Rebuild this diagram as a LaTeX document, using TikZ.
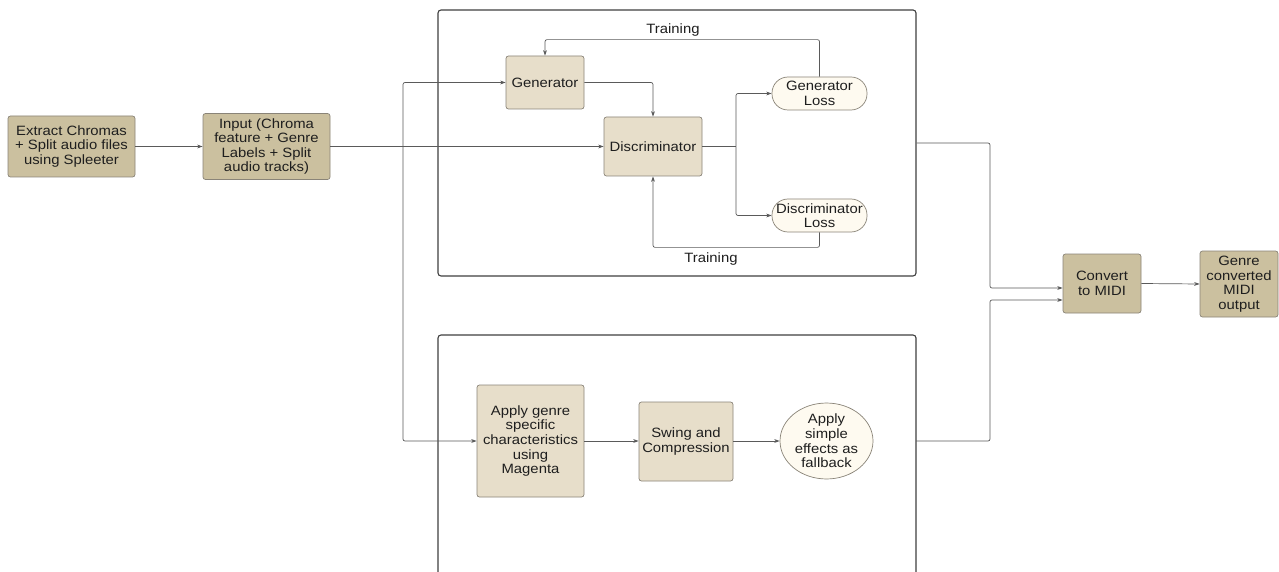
\documentclass[tikz,border=0pt]{standalone}
\usepackage{fontspec}
\setmainfont{Liberation Sans}[FakeStretch=1.1]
\usetikzlibrary{arrows.meta,shapes.geometric,calc}
\definecolor{darktan}{HTML}{CBC09F}
\definecolor{lighttan}{HTML}{E7DECA}
\definecolor{cream}{HTML}{FEFAF0}
\definecolor{linecol}{HTML}{5A5A5A}
\definecolor{edgecol}{HTML}{8A8478}
\definecolor{txt}{HTML}{1E1E1E}
\tikzset{
  every node/.style={font=\fontsize{13.5}{14.6}\selectfont, text=txt},
  outerbox/.style={draw=edgecol, fill=darktan, rounded corners=2.5pt, align=center, inner sep=1pt, line width=0.7pt},
  innerbox/.style={draw=edgecol, fill=lighttan, rounded corners=2.5pt, align=center, inner sep=1pt, line width=0.7pt},
  pill/.style={draw=edgecol, fill=cream, rounded corners=16pt, align=center, inner sep=0pt, line width=0.7pt, minimum width=95pt, minimum height=33pt},
  oval/.style={draw=edgecol, fill=cream, ellipse, align=center, inner sep=0pt, line width=0.7pt, minimum width=93pt, minimum height=70pt},
  bigbox/.style={draw=black!75, line width=1.1pt, rounded corners=3pt},
  arr/.style={draw=linecol, line width=0.7pt, rounded corners=2pt, -{Stealth[length=5.5pt,width=3.8pt]}},
  ln/.style={draw=linecol, line width=0.7pt, rounded corners=2pt},
  lbl/.style={inner sep=0pt}
}
\begin{document}
\begin{tikzpicture}[x=1pt,y=-1pt]
\useasboundingbox[fill=white] (0,0) rectangle (1279,572);
% big containers
\node[bigbox, minimum width=478pt, minimum height=266pt, inner sep=0pt] (topbox) at (677,143) {};
\draw[bigbox] (438,585) -- (438,335) -- (916,335) -- (916,585);
\coordinate (botexit) at (916,441);
% left chain
\node[outerbox, minimum width=127pt, minimum height=61pt] (ext) at (71.5,146.5) {Extract Chromas\\+ Split audio files\\using Spleeter};
\node[outerbox, minimum width=127pt, minimum height=66pt] (inp) at (266.5,146.5) {Input (Chroma\\feature + Genre\\Labels + Split\\audio tracks)};
% GAN
\node[innerbox, minimum width=78pt, minimum height=53pt] (gen) at (545,82.5) {Generator};
\node[innerbox, minimum width=98pt, minimum height=59pt] (disc) at (653,146.5) {Discriminator};
\node[pill] (gloss) at (819.5,93.5) {Generator\\Loss};
\node[pill] (dloss) at (819.5,215.5) {Discriminator\\Loss};
\node[lbl] (t1) at (673,30) {Training};
\node[lbl] (t2) at (711,259) {Training};
% bottom chain
\node[innerbox, minimum width=107pt, minimum height=112pt] (apg) at (530.5,441) {Apply genre\\specific\\characteristics\\using\\Magenta};
\node[innerbox, minimum width=94pt, minimum height=79pt] (swing) at (686,441.5) {Swing and\\Compression};
\node[oval] (fb) at (826.5,441) {Apply\\simple\\effects as\\fallback};
% output
\node[outerbox, minimum width=78pt, minimum height=59pt] (conv) at (1102,283.5) {Convert\\to MIDI};
\node[outerbox, minimum width=78pt, minimum height=66pt] (out) at (1239,284) {Genre\\converted\\MIDI\\output};
% connectors
\coordinate (J) at (403,146.5);
\coordinate (B) at (736,146.5);
\draw[arr] (ext.east) -- (inp.west);
\draw[arr] (inp.east) -- (disc.west);
\draw[arr] (J) |- (gen.west);
\draw[arr] (J) |- (apg.west);
\draw[arr] (gen.east) -| (disc.north);
\draw[ln] (disc.east) -- (B);
\draw[arr] (B) |- (gloss.west);
\draw[arr] (B) |- (dloss.west);
\draw[arr] (gloss.north) -- ++(0,-37) -| (gen.north);
\draw[arr] (dloss.south) -- ++(0,15) -| (disc.south);
\draw[arr] (apg.east) -- (swing.west |- apg.east);
\draw[arr] (swing.east |- apg.east) -- (fb.west);
\draw[arr] (topbox.east) -| (990,288) -- ([yshift=-4.5pt]conv.west);
\draw[arr] (botexit) -| (990,300) -- ([yshift=-16.5pt]conv.west);
\draw[arr] (conv.east) -- (out.west);
\end{tikzpicture}
\end{document}
